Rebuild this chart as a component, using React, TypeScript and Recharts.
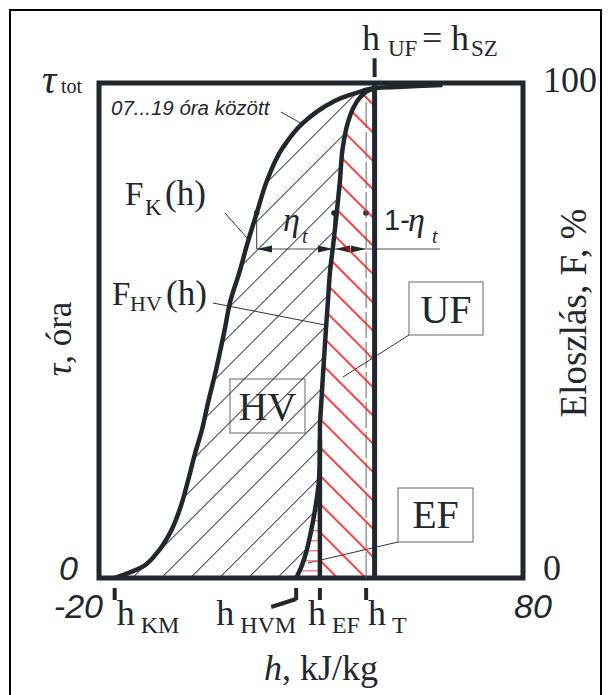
import {
  Area,
  ComposedChart,
  Customized,
  Line,
  ReferenceArea,
  ReferenceLine,
  XAxis,
  YAxis,
} from 'recharts'

// distribution levels (F, %) and the enthalpy at that level
const F_LEVELS = [0, 2, 5, 9, 14, 20, 25, 30, 35, 42, 50, 56, 62, 67, 74, 80, 87, 92, 95, 97, 98.2, 99]
const H_K = [-16.3, -10.3, -6.4, -3.3, -0.9, 1.1, 2.6, 4.3, 5.6, 7.6, 9.6, 11.0, 13.2, 14.8, 17.3, 19.5, 23.4, 28.2, 32.8, 37.2, 41.5, 45]
const H_HV = [26.5, 27.6, 28.8, 29.9, 31.0, 31.9, 32.1, 32.1, 32.4, 32.9, 33.5, 34.0, 34.5, 35.2, 36.1, 36.8, 37.5, 38.7, 40.0, 41.5, 43.0, 45]
// F_K runs on past h_UF and melts into the 100 % line
const K_TAIL_F = [99.2, 99.4, 99.6]
const K_TAIL_H = [50, 55, 61]

const H_KM = -16.3
const H_HVM = 26.5
const H_EF = 32.1
const H_T = 43.0
const H_UF = 45
const EF_TOP = 25

const X_TICKS = [-20, H_KM, H_HVM, H_EF, H_T, 80]
const F_TICKS = [0, 100]

const INK = '#20272d'
const SERIF = '"Liberation Serif", "Times New Roman", serif'
const SANS = '"Liberation Sans", Arial, sans-serif'

const kLine = F_LEVELS.map((F, i) => ({ F, h: H_K[i] })).concat(
  K_TAIL_F.map((F, i) => ({ F, h: K_TAIL_H[i] }))
)
const hvLine = F_LEVELS.map((F, i) => ({ F, h: H_HV[i] }))
const hvArea = F_LEVELS.map((F, i) => ({ F, band: [H_K[i], H_HV[i]] }))
const ufArea = F_LEVELS.map((F, i) => ({ F, band: [Math.max(H_HV[i], H_EF), H_UF] }))
const efArea = F_LEVELS.map((F, i) => ({ F, band: [H_HV[i], H_EF] })).filter(
  (d) => d.F <= EF_TOP
)

function BottomTick({ x, y, payload }: any) {
  const v = payload.value
  const mark = (
    <rect x={x - 2} y={y + 10} width={4} height={12} fill={INK} />
  )
  if (v === -20 || v === 80) {
    return (
      <text
        x={v === -20 ? x + 4 : x - 9}
        y={y + 40}
        textAnchor={v === -20 ? 'end' : 'start'}
        fontFamily={SANS}
        fontStyle="italic"
        fontSize={34}
        fill={INK}
      >
        {v}
      </text>
    )
  }
  let hx = x + 2
  let sub = ''
  if (v === H_KM) { hx = x + 2; sub = 'KM' }
  if (v === H_HVM) { hx = x - 80; sub = 'HVM' }
  if (v === H_EF) { hx = x - 12; sub = 'EF' }
  if (v === H_T) { hx = x + 2; sub = 'T' }
  return (
    <g>
      {mark}
      {v === H_HVM && (
        <line x1={x} y1={y + 21} x2={x - 25} y2={y + 29} stroke={INK} strokeWidth={4} />
      )}
      <text x={hx} y={y + 47} fontFamily={SERIF} fontSize={36} fill={INK}>h</text>
      <text x={hx + 24} y={y + 55} fontFamily={SERIF} fontSize={24} fill={INK}>{sub}</text>
    </g>
  )
}

function LeftTick({ x, y, payload }: any) {
  if (payload.value === 0) {
    return (
      <text x={x - 21} y={y + 2} textAnchor="end" fontFamily={SANS} fontStyle="italic" fontSize={34} fill={INK}>
        0
      </text>
    )
  }
  return (
    <g>
      <text x={x - 57} y={y + 10} fontFamily={SERIF} fontStyle="italic" fontSize={40} fill={INK}>τ</text>
      <text x={x - 38} y={y + 10} fontFamily={SERIF} fontSize={20} fill={INK}>tot</text>
    </g>
  )
}

function RightTick({ x, y, payload }: any) {
  return (
    <text x={x + 20} y={y + (payload.value === 0 ? 2 : 9)} fontFamily={SERIF} fontSize={36} fill={INK}>
      {payload.value}
    </text>
  )
}

function TextBox({ x, y, w, h, label, base }: any) {
  return (
    <g>
      <rect x={x} y={y} width={w} height={h} fill="#fff" stroke="#666" strokeWidth={1} />
      <text x={x + w / 2} y={base} textAnchor="middle" fontFamily={SERIF} fontSize={40} fill={INK}>
        {label}
      </text>
    </g>
  )
}

function Annotations() {
  const thin = { stroke: '#333', strokeWidth: 1 }
  return (
    <g>
      <rect x={10} y={10} width={591} height={700} fill="none" stroke="#000" strokeWidth={2} />

      <text x={362} y={50} fontFamily={SERIF} fontSize={36} fill={INK}>h</text>
      <text x={388} y={56} fontFamily={SERIF} fontSize={23} fill={INK}>UF</text>
      <text x={422} y={50} fontFamily={SERIF} fontSize={36} fill={INK}>=</text>
      <text x={451} y={50} fontFamily={SERIF} fontSize={36} fill={INK}>h</text>
      <text x={471} y={56} fontFamily={SERIF} fontSize={23} fill={INK}>SZ</text>

      <text x={111} y={115} fontFamily={SANS} fontStyle="italic" fontSize={20.5} fill={INK}>
        07...19 óra között
      </text>
      <line x1={281} y1={112} x2={304} y2={125} {...thin} />

      <text x={125} y={205} fontFamily={SERIF} fontSize={33} fill={INK}>F</text>
      <text x={145} y={215} fontFamily={SERIF} fontSize={23} fill={INK}>K</text>
      <text x={165} y={205} fontFamily={SERIF} fontSize={35} fill={INK}>(h)</text>
      <line x1={225} y1={213} x2={247} y2={238} {...thin} />

      <text x={112} y={305} fontFamily={SERIF} fontSize={33} fill={INK}>F</text>
      <text x={130} y={311} fontFamily={SERIF} fontSize={22} fill={INK}>HV</text>
      <text x={166} y={305} fontFamily={SERIF} fontSize={35} fill={INK}>(h)</text>
      <line x1={213} y1={303} x2={325} y2={325} {...thin} />

      {/* eta dimension */}
      <line x1={256.7} y1={211} x2={256.7} y2={249} {...thin} />
      <line x1={334} y1={211} x2={334} y2={249} {...thin} />
      <line x1={256.7} y1={249} x2={440} y2={249} stroke="#8a8a8a" strokeWidth={1.5} />
      <circle cx={256.7} cy={213} r={2.8} fill={INK} />
      <circle cx={334} cy={213} r={2.8} fill={INK} />
      <circle cx={366} cy={213} r={2.8} fill={INK} />
      <polygon points="256.7,249 272,245.5 272,252.5" fill={INK} />
      <polygon points="333,249 318,245.5 318,252.5" fill={INK} />
      <polygon points="335,249 350,245.5 350,252.5" fill={INK} />
      <polygon points="366,249 351,245.5 351,252.5" fill={INK} />
      <text x={283} y={231} fontFamily={SERIF} fontStyle="italic" fontSize={34} fill={INK}>η</text>
      <text x={302} y={243} fontFamily={SERIF} fontStyle="italic" fontSize={20} fill={INK}>t</text>
      <text x={384} y={230} fontFamily={SANS} fontSize={29} fill={INK}>1-</text>
      <text x={408} y={231} fontFamily={SERIF} fontStyle="italic" fontSize={34} fill={INK}>η</text>
      <text x={432} y={243} fontFamily={SERIF} fontStyle="italic" fontSize={20} fill={INK}>t</text>

      <TextBox x={409} y={282} w={74} h={53} label="UF" base={323} />
      <line x1={409} y1={335} x2={343} y2={377} {...thin} />
      <TextBox x={230} y={379} w={75} h={54} label="HV" base={420} />
      <TextBox x={398} y={488} w={75} h={54} label="EF" base={528} />
      <line x1={398} y1={542} x2={308} y2={563} {...thin} />

      <text transform="translate(71 339) rotate(-90)" textAnchor="middle" fontFamily={SERIF} fontSize={35} fill={INK}>
        <tspan fontStyle="italic">τ</tspan>, óra
      </text>
      <text transform="translate(586 313) rotate(-90)" textAnchor="middle" fontFamily={SERIF} fontSize={37} fill={INK}>
        Eloszlás, F, %
      </text>
      <text x={321} y={680} textAnchor="middle" fontFamily={SERIF} fontSize={36} fill={INK}>
        <tspan fontStyle="italic">h</tspan>, kJ/kg
      </text>
    </g>
  )
}

export default function App() {
  return (
    <div style={{ position: 'absolute', left: 0, top: 0, width: 611, height: 695, background: '#fff' }}>
      <ComposedChart
        width={611}
        height={695}
        layout="vertical"
        margin={{ top: 83, right: 10, bottom: 10, left: 10 }}
      >
        <defs>
          <pattern id="hatchHV" patternUnits="userSpaceOnUse" width={20.5} height={20.5} patternTransform="rotate(45)">
            <line x1={10.25} y1={0} x2={10.25} y2={20.5} stroke="#3a3a3a" strokeWidth={1} />
          </pattern>
          <pattern id="hatchUF" patternUnits="userSpaceOnUse" width={20} height={20} patternTransform="rotate(-45)">
            <line x1={10} y1={0} x2={10} y2={20} stroke="#ff0000" strokeWidth={1.5} />
          </pattern>
          <pattern id="hatchEF" patternUnits="userSpaceOnUse" width={10} height={10}>
            <line x1={0} y1={0} x2={10} y2={0} stroke="#ff8080" strokeWidth={3} />
          </pattern>
        </defs>
        <XAxis
          type="number"
          domain={[-20, 80]}
          ticks={X_TICKS}
          interval={0}
          height={107}
          axisLine={false}
          tickLine={false}
          tickSize={0}
          tickMargin={0}
          tick={(p: any) => <BottomTick {...p} />}
          allowDataOverflow
        />
        <YAxis
          yAxisId="left"
          type="number"
          dataKey="F"
          domain={[0, 100]}
          reversed
          ticks={F_TICKS}
          interval={0}
          width={89}
          axisLine={false}
          tickLine={false}
          tickSize={0}
          tickMargin={0}
          tick={(p: any) => <LeftTick {...p} />}
          allowDataOverflow
        />
        <YAxis
          yAxisId="right"
          orientation="right"
          type="number"
          dataKey="F"
          domain={[0, 100]}
          reversed
          ticks={F_TICKS}
          interval={0}
          width={78}
          axisLine={false}
          tickLine={false}
          tickSize={0}
          tickMargin={0}
          tick={(p: any) => <RightTick {...p} />}
          allowDataOverflow
        />
        <Area yAxisId="left" data={hvArea} dataKey="band" type="monotone" stroke="none" fill="url(#hatchHV)" fillOpacity={1} isAnimationActive={false} />
        <Area yAxisId="left" data={ufArea} dataKey="band" type="monotone" stroke="none" fill="url(#hatchUF)" fillOpacity={1} isAnimationActive={false} />
        <Area yAxisId="left" data={efArea} dataKey="band" type="monotone" stroke="none" fill="url(#hatchEF)" fillOpacity={1} isAnimationActive={false} />
        <ReferenceLine
          yAxisId="left"
          segment={[{ x: H_T, y: 0 }, { x: H_T, y: 97.5 }]}
          stroke="#666"
          strokeWidth={1}
          strokeDasharray="26 4"
        />
        <Line yAxisId="left" data={kLine} dataKey="h" type="monotone" stroke={INK} strokeWidth={4.5} dot={false} activeDot={false} isAnimationActive={false} />
        <Line yAxisId="left" data={hvLine} dataKey="h" type="monotone" stroke={INK} strokeWidth={4.5} dot={false} activeDot={false} isAnimationActive={false} />
        <ReferenceArea yAxisId="left" x1={-20} x2={80} y1={0} y2={100} fill="none" fillOpacity={0} stroke={INK} strokeWidth={5} />
        <ReferenceLine yAxisId="left" x={H_UF} stroke={INK} strokeWidth={5} />
        <ReferenceLine
          yAxisId="left"
          segment={[{ x: H_EF, y: 0 }, { x: H_EF, y: 28 }]}
          stroke={INK}
          strokeWidth={4.5}
        />
        <ReferenceLine
          yAxisId="left"
          segment={[{ x: H_UF, y: 101.2 }, { x: H_UF, y: 105 }]}
          stroke={INK}
          strokeWidth={4}
          ifOverflow="visible"
        />
        <Customized component={<Annotations />} />
      </ComposedChart>
    </div>
  )
}
